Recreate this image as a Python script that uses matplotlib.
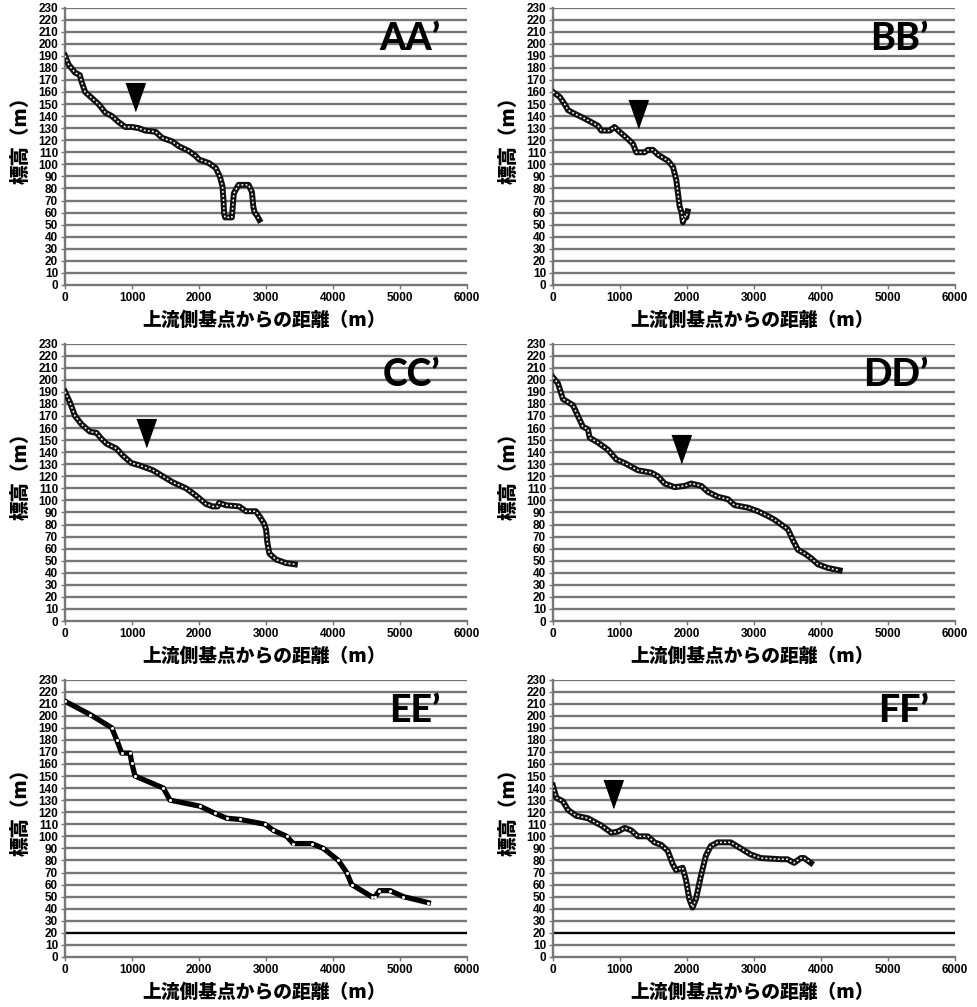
import matplotlib.pyplot as plt
import numpy as np

# Longitudinal profiles, distance (m) from upstream base point vs elevation (m)
aa_x = [0, 50, 150, 220, 250, 300, 400, 500, 600, 700, 800, 900, 1000, 1100, 1200, 1350, 1450,
        1600, 1700, 1850, 1950, 2000, 2150, 2250, 2310, 2350, 2365, 2375, 2390, 2490, 2520, 2590,
        2620, 2740, 2790, 2810, 2830, 2860, 2900]
aa_y = [190, 183, 176, 174, 168, 160, 155, 150, 143, 140, 135, 131, 131, 130, 128, 127, 122,
        119, 115, 111, 107, 104, 101, 97, 90, 82, 70, 59, 56, 56, 76, 83,
        83, 83, 77, 65, 60, 58, 54]

bb_x = [0, 100, 174, 224, 323, 473, 672, 721, 846, 920, 995, 1119, 1194, 1244, 1368, 1418, 1493,
        1567, 1716, 1791, 1841, 1866, 1891, 1920, 1940, 1965, 1990, 2010]
bb_y = [160, 156, 150, 145, 142, 138, 132, 128, 128, 131, 127, 121, 117, 110, 110, 112, 112,
        108, 103, 98, 87, 76, 65, 60, 52, 57, 56, 61]

cc_x = [0, 75, 149, 248, 371, 470, 545, 619, 767, 866, 990, 1114, 1312, 1460, 1609, 1807, 1955,
        2104, 2203, 2277, 2300, 2400, 2600, 2700, 2850, 2900, 2970, 3000, 3020, 3050, 3150, 3300, 3430]
cc_y = [190, 181, 170, 163, 157, 156, 151, 147, 143, 137, 131, 129, 125, 120, 115, 110, 104,
        97, 95, 95, 98, 96, 95, 91, 91, 87, 81, 76, 65, 56, 51, 48, 47]

dd_x = [0, 75, 149, 298, 373, 448, 522, 547, 671, 821, 945, 1069, 1268, 1467, 1567, 1666, 1816,
        1965, 2065, 2214, 2313, 2463, 2612, 2711, 2910, 3060, 3209, 3308, 3408, 3507, 3582, 3657,
        3756, 3856, 3955, 4104, 4279]
dd_y = [202, 197, 184, 179, 170, 161, 159, 152, 148, 142, 134, 131, 125, 123, 120, 114, 111,
        112, 114, 112, 107, 103, 101, 96, 94, 91, 87, 84, 80, 76, 67, 59,
        56, 52, 47, 44, 42]

ee_x = [0, 373, 697, 771, 846, 970, 995, 1045, 1468, 1567, 2015, 2239, 2413, 2612, 2985, 3109,
        3308, 3408, 3682, 3856, 4080, 4204, 4279, 4577, 4627, 4692, 4851, 5050, 5423]
ee_y = [212, 201, 190, 180, 169, 169, 161, 150, 140, 130, 125, 119, 115, 114, 110, 105,
        100, 94, 94, 90, 80, 70, 60, 50, 50, 55, 55, 50, 45]

ff_x = [0, 50, 149, 224, 348, 522, 721, 871, 970, 1069, 1168, 1267, 1416, 1515, 1614, 1713, 1787,
        1837, 1936, 1985, 2035, 2084, 2134, 2208, 2283, 2356, 2455, 2654, 2803, 2950, 3100, 3400,
        3500, 3600, 3700, 3750, 3850]
ff_y = [142, 132, 129, 122, 117, 115, 109, 103, 104, 107, 105, 100, 100, 95, 93, 88, 77,
        72, 74, 64, 48, 41, 48, 67, 84, 92, 95, 95, 90, 85, 82, 81,
        81, 78, 82, 82, 78]

names = ["AA’", "BB’", "CC’", "DD’", "EE’", "FF’"]
xs = [aa_x, bb_x, cc_x, dd_x, ee_x, ff_x]
ys = [aa_y, bb_y, cc_y, dd_y, ee_y, ff_y]

# ▼ marker position for each profile (None = no marker)
mark_x = [1045, 1270, 1205, 1915, None, 896]
mark_y = [156, 142, 155.5, 143, None, 135]

x_label = "上流側基点からの距離（m）"
y_label = "標高（m）"

cjk = ['Noto Sans CJK JP', 'DejaVu Sans']
plt.rcParams['font.family'] = ['Liberation Sans', 'DejaVu Sans']

fig = plt.figure(figsize=(9.78, 10.07), dpi=100)

lefts = [0.0665, 0.5654]
bottoms = [0.717, 0.3833, 0.0497]
w, h = 0.411, 0.2755

tri = [(-0.7, 1), (0.7, 1), (0, -1)]

for i in range(6):
    row, col = divmod(i, 2)
    ax = fig.add_axes([lefts[col], bottoms[row], w, h])

    ax.set_xlim(0, 6000)
    ax.set_ylim(0, 230)
    ax.set_xticks(np.arange(0, 6001, 1000))
    ax.set_yticks(np.arange(0, 231, 10))

    for v in range(10, 231, 10):
        c = 'black' if (row == 2 and v == 20) else '#777777'
        ax.axhline(v, color=c, lw=1.7, zorder=1)

    for s in ['top', 'right']:
        ax.spines[s].set_visible(False)
    for s in ['left', 'bottom']:
        ax.spines[s].set_color('#777777')
        ax.spines[s].set_linewidth(1.7)

    ax.tick_params(axis='both', length=3, width=1, color='#777777', labelsize=8.5, pad=2)
    for lab in ax.get_xticklabels() + ax.get_yticklabels():
        lab.set_fontweight('bold')

    if names[i] == "EE’":
        ax.plot(xs[i], ys[i], color='black', lw=3.8, zorder=3,
                marker='o', ms=2.2, mfc='white', mec='white', mew=0)
    else:
        ax.plot(xs[i], ys[i], color='#111111', lw=4.3, zorder=3, solid_joinstyle='round')
        ax.plot(xs[i], ys[i], color='white', lw=1.1, ls=(0, (1.2, 1.5)), zorder=4)

    if mark_x[i] is not None:
        ax.plot([mark_x[i]], [mark_y[i]], marker=tri, ms=20, color='black', ls='none', zorder=5)

    ax.text(0.935, 0.885, names[i], transform=ax.transAxes, ha='right', va='center',
            fontsize=27, fontweight='black', family=['Lato', 'Liberation Sans', 'DejaVu Sans'])

    ax.set_xlabel(x_label, family=cjk, fontsize=13.5, fontweight='heavy')
    ax.xaxis.set_label_coords(0.495, -0.128)
    ax.xaxis.label.set_va('center')
    ax.set_ylabel(y_label, family=cjk, fontsize=14, fontweight='heavy')
    ax.yaxis.set_label_coords(-0.11, 0.54)
    ax.yaxis.label.set_va('center')

fig.savefig('out.png', dpi=100)
